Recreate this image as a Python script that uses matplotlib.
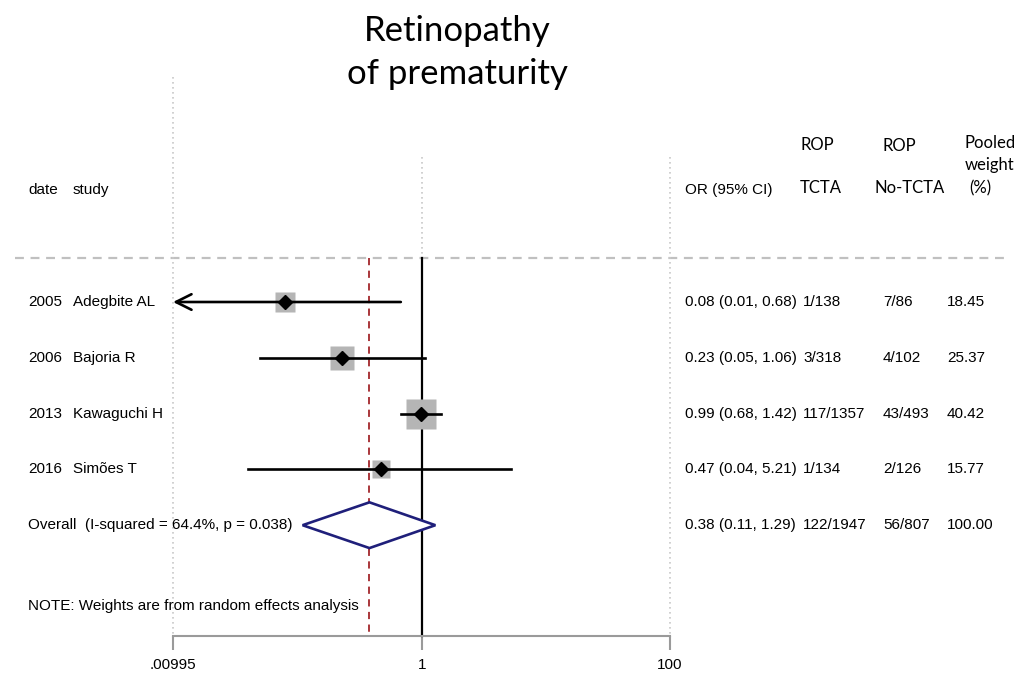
import numpy as np
import matplotlib
matplotlib.use("Agg")
import matplotlib.pyplot as plt
import matplotlib.transforms as mtransforms

# ---- data ----
years = ["2005", "2006", "2013", "2016"]
studies = ["Adegbite AL", "Bajoria R", "Kawaguchi H", "Simões T"]
odds = [0.08, 0.23, 0.99, 0.47]
ci_lo = [0.01, 0.05, 0.68, 0.04]
ci_hi = [0.68, 1.06, 1.42, 5.21]
clipped_left = [True, False, False, False]
or_text = ["0.08 (0.01, 0.68)", "0.23 (0.05, 1.06)", "0.99 (0.68, 1.42)", "0.47 (0.04, 5.21)"]
rop_tcta = ["1/138", "3/318", "117/1357", "1/134"]
rop_no_tcta = ["7/86", "4/102", "43/493", "2/126"]
weights = [18.45, 25.37, 40.42, 15.77]

overall_label = "Overall  (I-squared = 64.4%, p = 0.038)"
overall_or = 0.38
overall_lo = 0.11
overall_hi = 1.29
overall_text = "0.38 (0.11, 1.29)"
overall_tcta = "122/1947"
overall_no_tcta = "56/807"
overall_weight = "100.00"

x_ticks = [0.00995, 1, 100]
x_ticklabels = [".00995", "1", "100"]

ARIAL = "Liberation Sans"
CALIBRI = "Lato"
W, H = 1031, 677

fig = plt.figure(figsize=(W / 100, H / 100), dpi=100)
ax = fig.add_axes([173 / W, 0, (670 - 173) / W, 1])
ax.set_xscale("log")
ax.set_xlim(x_ticks[0], x_ticks[-1])
# row units: row 0 sits at pixel 302, 55.8 px per row
row0, step = 302, 55.8
ax.set_ylim((H - row0) / step, -row0 / step)
ax.patch.set_alpha(0)

def py(p):
    return (p - row0) / step

trans = mtransforms.blended_transform_factory(fig.transFigure, ax.transData)
fs = 11

# title
fig.text(457 / W, 1 - 31 / H, "Retinopathy", ha="center", va="center",
         fontsize=25, family=CALIBRI)
fig.text(457 / W, 1 - 74 / H, "of prematurity", ha="center", va="center",
         fontsize=25, family=CALIBRI)

# headers
hy = py(190)
ax.text(28 / W, hy, "date", transform=trans, va="center", fontsize=fs, family=ARIAL)
ax.text(73 / W, hy, "study", transform=trans, va="center", fontsize=fs, family=ARIAL)
ax.text(685 / W, hy, "OR (95% CI)", transform=trans, va="center", fontsize=fs, family=ARIAL)
ax.text(800 / W, py(145), "ROP", transform=trans, va="center", fontsize=12, family=CALIBRI)
ax.text(800 / W, py(188), "TCTA", transform=trans, va="center", fontsize=12, family=CALIBRI)
ax.text(883 / W, py(146), "ROP", transform=trans, va="center", fontsize=12, family=CALIBRI)
ax.text(875 / W, py(188), "No-TCTA", transform=trans, va="center", fontsize=12, family=CALIBRI)
ax.text(965 / W, py(143), "Pooled", transform=trans, va="center", fontsize=12, family=CALIBRI)
ax.text(965 / W, py(165), "weight", transform=trans, va="center", fontsize=12, family=CALIBRI)
ax.text(969 / W, py(188), "(%)", transform=trans, va="center", fontsize=12, family=CALIBRI)

# header separator
ax.plot([15 / W, 1008 / W], [py(258), py(258)], transform=trans, clip_on=False,
        color="#c0c0c0", lw=1.6, dashes=(4, 3))

# grid-like dotted verticals
dot = dict(color="#c8c8c8", lw=1.2, ls=(0, (1, 2)), clip_on=False)
ax.plot([x_ticks[0], x_ticks[0]], [py(77), py(636)], **dot)
ax.plot([x_ticks[-1], x_ticks[-1]], [py(157), py(636)], **dot)
ax.plot([1, 1], [py(157), py(258)], **dot)

# null line and pooled estimate line
ax.plot([1, 1], [py(258), py(636)], color="black", lw=1.6)
ax.plot([overall_or, overall_or], [py(258), py(636)], color="#a3262b", lw=1.3,
        dashes=(4, 3))

# studies
for i in range(len(studies)):
    y = i
    if clipped_left[i]:
        ax.annotate("", xy=(x_ticks[0], y), xytext=(ci_hi[i], y),
                    arrowprops=dict(arrowstyle="->", lw=1.9, color="black",
                                    mutation_scale=28, shrinkA=0, shrinkB=0))
    else:
        ax.plot([ci_lo[i], ci_hi[i]], [y, y], color="black", lw=1.9, zorder=3)
    ax.plot(odds[i], y, marker="s", ms=3.4 * np.sqrt(weights[i]),
            color="#b5b5b5", mec="none", zorder=2)
    ax.plot(odds[i], y, marker="D", ms=7.5, color="black", zorder=4)

    ax.text(28 / W, y, years[i], transform=trans, va="center", fontsize=fs, family=ARIAL)
    ax.text(73 / W, y, studies[i], transform=trans, va="center", fontsize=fs, family=ARIAL)
    ax.text(685 / W, y, or_text[i], transform=trans, va="center", fontsize=fs, family=ARIAL)
    ax.text(803 / W, y, rop_tcta[i], transform=trans, va="center", fontsize=fs, family=ARIAL)
    ax.text(883 / W, y, rop_no_tcta[i], transform=trans, va="center", fontsize=fs, family=ARIAL)
    ax.text(947 / W, y, f"{weights[i]:.2f}", transform=trans, va="center", fontsize=fs,
            family=ARIAL)

# overall diamond
yo = len(studies)
half = 0.41
ax.fill([overall_lo, overall_or, overall_hi, overall_or, overall_lo],
        [yo, yo - half, yo, yo + half, yo], facecolor="white",
        edgecolor="#1f1f7a", lw=1.9, zorder=3)
ax.text(28 / W, yo, overall_label, transform=trans, va="center", fontsize=fs, family=ARIAL)
ax.text(685 / W, yo, overall_text, transform=trans, va="center", fontsize=fs, family=ARIAL)
ax.text(803 / W, yo, overall_tcta, transform=trans, va="center", fontsize=fs, family=ARIAL)
ax.text(883 / W, yo, overall_no_tcta, transform=trans, va="center", fontsize=fs, family=ARIAL)
ax.text(947 / W, yo, overall_weight, transform=trans, va="center", fontsize=fs, family=ARIAL)

ax.text(28 / W, py(606), "NOTE: Weights are from random effects analysis", transform=trans,
        va="center", fontsize=fs, family=ARIAL)

# x axis
for s in ["top", "left", "right"]:
    ax.spines[s].set_visible(False)
ax.spines["bottom"].set_position(("data", py(636)))
ax.spines["bottom"].set_color("#9a9a9a")
ax.spines["bottom"].set_linewidth(1.5)
ax.set_yticks([])
ax.set_xticks(x_ticks)
ax.set_xticklabels(x_ticklabels, fontsize=fs, family=ARIAL)
ax.xaxis.set_minor_locator(matplotlib.ticker.NullLocator())
ax.tick_params(axis="x", direction="out", length=10, width=1.5, color="#9a9a9a", pad=6)

fig.savefig("out.png", dpi=100)
